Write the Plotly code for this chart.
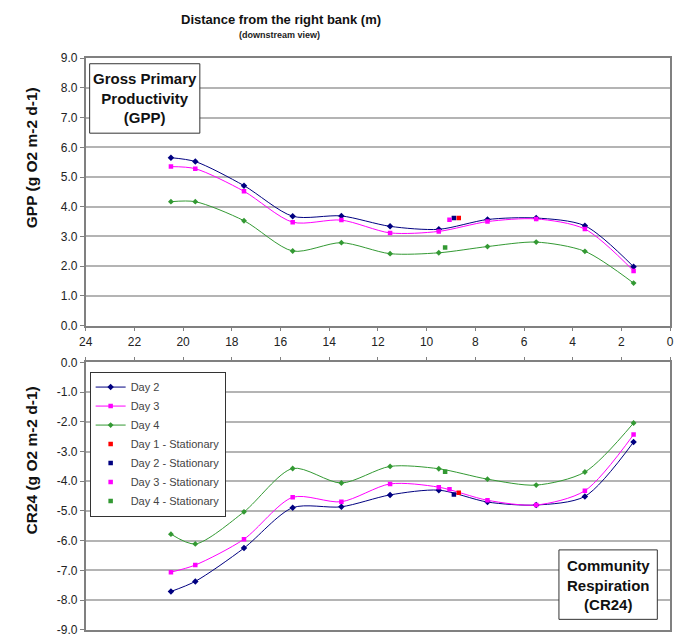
import plotly.graph_objects as go

# Distance from right bank (m)
dist = [20.5, 19.5, 17.5, 15.5, 13.5, 11.5, 9.5, 7.5, 5.5, 3.5, 1.5]

gpp_day2 = [5.65, 5.52, 4.71, 3.68, 3.69, 3.34, 3.24, 3.57, 3.62, 3.36, 1.98]
gpp_day3 = [5.35, 5.28, 4.52, 3.48, 3.55, 3.12, 3.17, 3.50, 3.59, 3.25, 1.84]
gpp_day4 = [4.17, 4.17, 3.53, 2.51, 2.79, 2.42, 2.45, 2.66, 2.81, 2.50, 1.43]

cr_day2 = [-7.71, -7.37, -6.25, -4.89, -4.86, -4.46, -4.30, -4.70, -4.80, -4.51, -2.68]
cr_day3 = [-7.06, -6.82, -5.95, -4.54, -4.69, -4.09, -4.20, -4.64, -4.80, -4.32, -2.43]
cr_day4 = [-5.78, -6.11, -5.03, -3.57, -4.06, -3.50, -3.58, -3.93, -4.13, -3.69, -2.04]

# Stationary measurements: (distance, GPP, CR24)
stat_names = ["Day 1 - Stationary", "Day 2 - Stationary", "Day 3 - Stationary", "Day 4 - Stationary"]
stat_dist = [8.68, 8.88, 9.06, 9.24]
stat_gpp = [3.62, 3.62, 3.56, 2.63]
stat_cr = [-4.39, -4.45, -4.27, -3.68]

series_names = ["Day 2", "Day 3", "Day 4"]
colors = {"Day 2": "#000080", "Day 3": "#FF00FF", "Day 4": "#339933"}
markers = {"Day 2": "diamond", "Day 3": "square", "Day 4": "diamond"}
msize = {"Day 2": 5, "Day 3": 4.5, "Day 4": 4.5}
stat_colors = ["#FF0000", "#000080", "#FF00FF", "#339933"]

x_ticks = list(range(24, -1, -2))
gpp_ticks = [float(v) for v in range(0, 10)]
cr_ticks = [float(-v) for v in range(0, 10)]

fig = go.Figure()

gpp = {"Day 2": gpp_day2, "Day 3": gpp_day3, "Day 4": gpp_day4}
cr = {"Day 2": cr_day2, "Day 3": cr_day3, "Day 4": cr_day4}

for name in series_names:
    fig.add_trace(go.Scatter(
        x=dist, y=gpp[name], mode="lines+markers", name=name,
        line=dict(color=colors[name], width=1, shape="spline", smoothing=0.8),
        marker=dict(symbol=markers[name], size=msize[name], color=colors[name]),
        showlegend=False, xaxis="x", yaxis="y"))
for i, n in enumerate(stat_names):
    fig.add_trace(go.Scatter(
        x=[stat_dist[i]], y=[stat_gpp[i]], mode="markers", name=n,
        marker=dict(symbol="square", size=4.5, color=stat_colors[i]),
        showlegend=False, xaxis="x", yaxis="y"))

for name in series_names:
    fig.add_trace(go.Scatter(
        x=dist, y=cr[name], mode="lines+markers", name=name,
        line=dict(color=colors[name], width=1, shape="spline", smoothing=0.8),
        marker=dict(symbol=markers[name], size=msize[name], color=colors[name]),
        showlegend=True, xaxis="x2", yaxis="y2"))
for i, n in enumerate(stat_names):
    fig.add_trace(go.Scatter(
        x=[stat_dist[i]], y=[stat_cr[i]], mode="markers", name=n,
        marker=dict(symbol="square", size=4.5, color=stat_colors[i]),
        showlegend=True, xaxis="x2", yaxis="y2"))

W, H = 681, 642
xd = [80 / W, 674 / W]
top_dom = [1 - 325.7 / H, 1 - 52.3 / H]
bot_dom = [1 - 636.7 / H, 1 - 363.3 / H]

tickfont = dict(family="Liberation Sans, Arial", size=12, color="#222")
grid = "#b4b4b4"
frame = "#808080"

fig.update_layout(
    width=W, height=H,
    margin=dict(l=0, r=0, t=0, b=0),
    paper_bgcolor="white", plot_bgcolor="white",
    font=dict(family="Liberation Sans, Arial", color="#222"),
    xaxis=dict(domain=xd, range=[24, 0], tickvals=x_ticks, ticktext=[str(v) for v in x_ticks],
               ticks="outside", ticklen=4, tickcolor=frame, showgrid=False, zeroline=False,
               showline=True, linecolor=frame, linewidth=1.5, mirror=True, tickfont=tickfont,
               anchor="y"),
    yaxis=dict(domain=top_dom, range=[0, 9], tickvals=gpp_ticks,
               ticktext=["%.1f" % v for v in gpp_ticks], ticks="outside",
               ticklen=4, tickcolor=frame, showgrid=True, gridcolor=grid, gridwidth=1.5,
               zeroline=False, showline=True, linecolor=frame, linewidth=1.5, mirror=True,
               tickfont=tickfont, anchor="x"),
    xaxis2=dict(domain=xd, range=[24, 0], tickvals=x_ticks, side="top", showticklabels=False,
                ticks="outside", ticklen=4, tickcolor=frame, showgrid=False, zeroline=False,
                showline=True, linecolor=frame, linewidth=1.5, mirror=True, anchor="y2"),
    yaxis2=dict(domain=bot_dom, range=[-9, 0], tickvals=cr_ticks,
                ticktext=["%.1f" % v if v != 0 else "0.0" for v in cr_ticks], ticks="outside",
                ticklen=4, tickcolor=frame, showgrid=True, gridcolor=grid, gridwidth=1.5,
                zeroline=False, showline=True, linecolor=frame, linewidth=1.5, mirror=True,
                tickfont=tickfont, anchor="x2"),
    legend=dict(x=84 / W, y=1 - 372.7 / H, xanchor="left", yanchor="top",
                bgcolor="white", bordercolor="#333", borderwidth=1,
                font=dict(size=11, color="#444"), tracegroupgap=0, itemwidth=30),
    showlegend=True,
)

# Titles
fig.add_annotation(text="<b>Distance from the right bank (m)</b>", xref="paper", yref="paper",
                   x=278 / W, y=1 - 13 / H, showarrow=False, xanchor="center", yanchor="middle",
                   font=dict(size=13, color="#111"))
fig.add_annotation(text="<b>(downstream view)</b>", xref="paper", yref="paper",
                   x=277 / W, y=1 - 29 / H, showarrow=False, xanchor="center", yanchor="middle",
                   font=dict(size=9, color="#222"))

# Y axis titles
fig.add_annotation(text="<b>GPP (g O2 m-2 d-1)</b>", xref="paper", yref="paper",
                   x=25 / W, y=1 - 154 / H, showarrow=False, xanchor="center", yanchor="middle",
                   textangle=-90, font=dict(size=15.5, color="#111"))
fig.add_annotation(text="<b>CR24 (g O2 m-2 d-1)</b>", xref="paper", yref="paper",
                   x=25 / W, y=1 - 464 / H, showarrow=False, xanchor="center", yanchor="middle",
                   textangle=-90, font=dict(size=15.5, color="#111"))

# Label boxes
fig.add_shape(type="rect", xref="paper", yref="paper",
              x0=84 / W, x1=196 / W, y0=1 - 129 / H, y1=1 - 58 / H,
              line=dict(color="#333", width=1), fillcolor="white")
fig.add_annotation(text="<b>Gross Primary<br>Productivity<br>(GPP)</b>", xref="paper", yref="paper",
                   x=140 / W, y=1 - 93.5 / H, showarrow=False, xanchor="center", yanchor="middle",
                   font=dict(size=15, color="#111"), align="center")
fig.add_shape(type="rect", xref="paper", yref="paper",
              x0=561 / W, x1=661 / W, y0=1 - 626 / H, y1=1 - 555 / H,
              line=dict(color="#333", width=1), fillcolor="white")
fig.add_annotation(text="<b>Community<br>Respiration<br>(CR24)</b>", xref="paper", yref="paper",
                   x=611 / W, y=1 - 590.5 / H, showarrow=False, xanchor="center", yanchor="middle",
                   font=dict(size=15, color="#111"), align="center")

fig.write_html("out.html")
